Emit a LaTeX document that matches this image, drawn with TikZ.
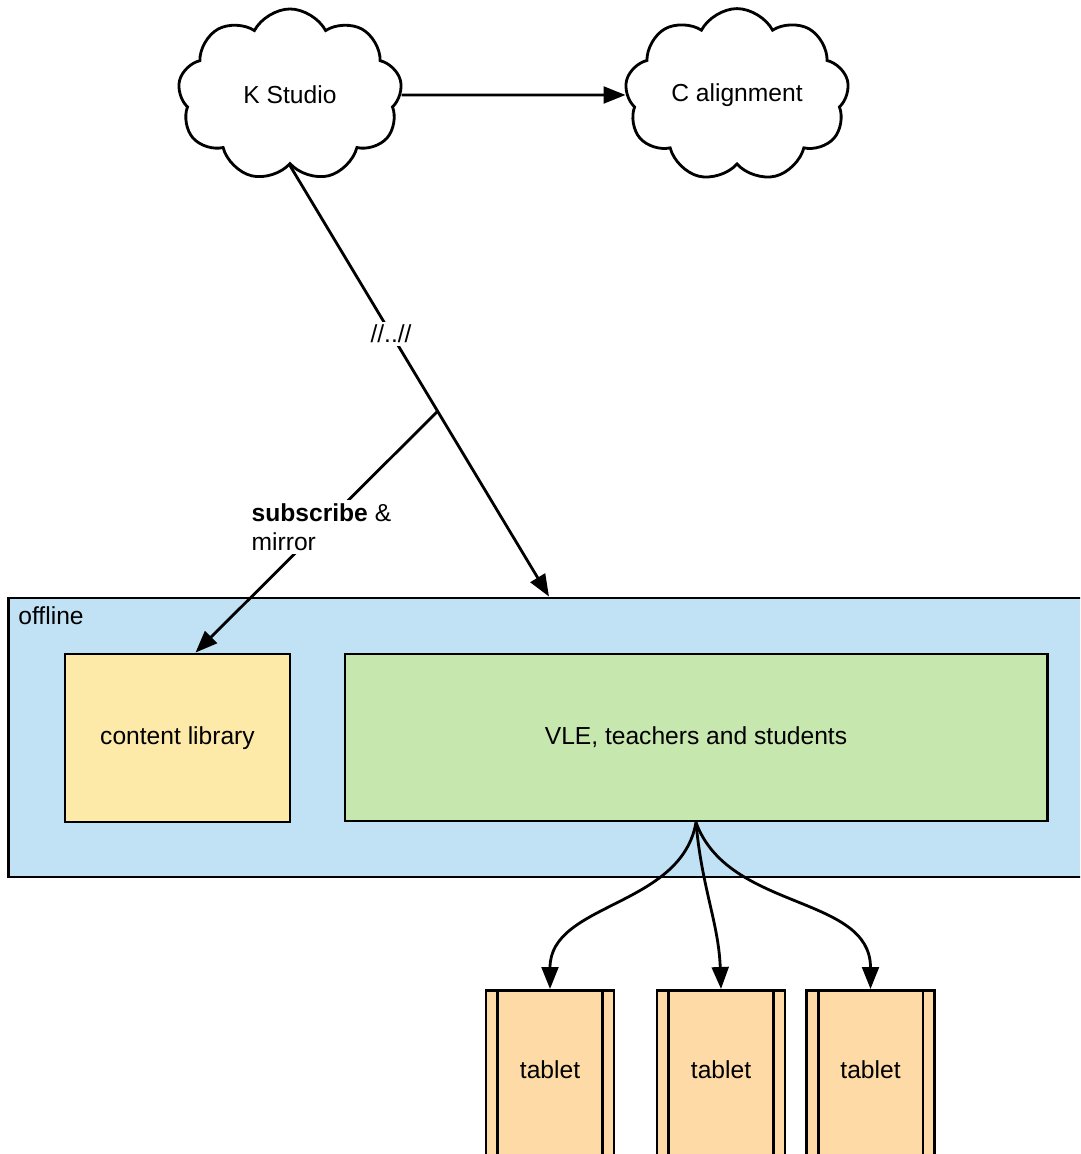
\documentclass[tikz,border=0pt]{standalone}
\usepackage{fontspec}
\setmainfont{Liberation Sans}
\usetikzlibrary{shapes.symbols,arrows.meta,positioning}
\definecolor{offlineblue}{RGB}{193,226,245}
\definecolor{libyellow}{RGB}{253,233,168}
\definecolor{vlegreen}{RGB}{198,231,174}
\definecolor{tabletorange}{RGB}{253,218,166}
\tikzset{
	cloudnode/.style={cloud, draw, cloud puffs=9, cloud puff arc=125, aspect=1.3, minimum width=5.6cm, minimum height=4.3cm, inner sep=0pt},
	box/.style={draw, rectangle, inner sep=0pt},
	tabletbox/.style={box, fill=tabletorange, anchor=north, minimum width=3.2cm, inner ysep=0pt, text height=2.2cm, text depth=3cm},
	conn/.style={-{Triangle[length=0.55cm,width=0.42cm]}},
	gaplabel/.style={fill=white, inner sep=2pt}
}
\begin{document}
\begin{tikzpicture}[x=0.025cm, y=-0.025cm, line width=2pt, font=\fontsize{17.5}{21}\selectfont]
	\useasboundingbox (0,0) rectangle (1080,1154);
	\clip (0,0) rectangle (1080,1154);
	% clouds
	\node[cloudnode] (studio) at ( 290 , 95 ) {K Studio};
	\node[cloudnode] (align) at ( 737 , 95 ) {C alignment};
	% offline site
	\node[box, fill=offlineblue, minimum width=27.3cm, minimum height=6.975cm] (offline) at ( 555 , 737.5 ) {};
	\node[anchor=north west, inner sep=0pt] (offlinelabel) at ( 17 , 605 ) {offline};
	\node[box, fill=libyellow, minimum width=5.625cm, minimum height=4.2cm] (lib) at ( 177.5 , 738 ) {content library};
	\node[box, fill=vlegreen, minimum width=17.55cm, minimum height=4.175cm] (vle) at ( 696 , 737.5 ) {VLE, teachers and students};
	% tablets
	\node[tabletbox] (tab1) at ( 550 , 989 ) {tablet};
	\node[tabletbox] (tab2) at ( 721 , 989 ) {tablet};
	\node[tabletbox] (tab3) at ( 870.5 , 989 ) {tablet};
	\foreach \t in {tab1, tab2, tab3} {
		\draw ([xshift=0.325cm]\t.north west) -- ([xshift=0.325cm]\t.south west);
		\draw ([xshift=-0.325cm]\t.north east) -- ([xshift=-0.325cm]\t.south east);
	}
	% connectors
	\draw[conn] (studio.east) -- (align.west);
	\draw[conn] (studio.south) -- node[gaplabel, pos=0.39] (gap) {//..//} coordinate[pos=0.57] (split) ([xshift=-0.15cm]offline.north);
	\draw[conn] (split) -- node[gaplabel, pos=0.48, align=left] (sublabel) {\textbf{subscribe} \&\\mirror} ([xshift=0.45cm]lib.north);
	\draw[conn] (vle.south) to[out=-100, in=90] (tab1.north);
	\draw[conn] (vle.south) to[out=-85, in=92] (tab2.north);
	\draw[conn] (vle.south) to[out=-70, in=90] (tab3.north);
\end{tikzpicture}
\end{document}
